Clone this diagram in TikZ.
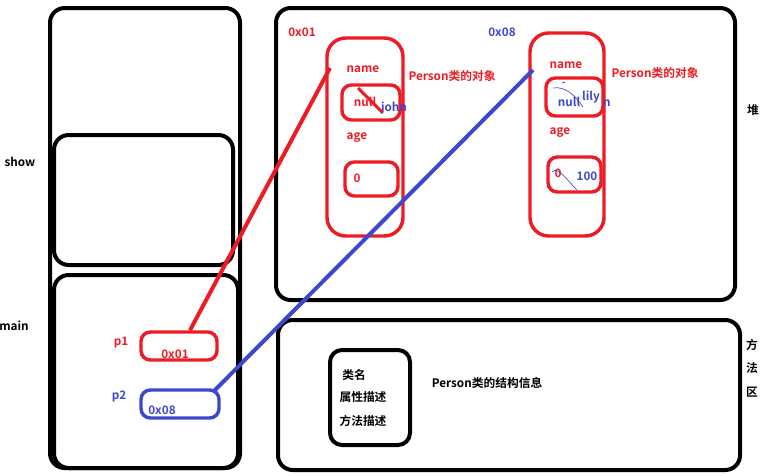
\documentclass[tikz,border=0pt]{standalone}
\usepackage{fontspec}
\setmainfont{Noto Sans CJK SC}[BoldFont={Noto Sans CJK SC Bold}]
\usetikzlibrary{fit,calc}
\definecolor{pred}{RGB}{237,28,36}
\definecolor{pblue}{RGB}{63,72,204}
\begin{document}
\begin{tikzpicture}[x=0.75pt,y=-0.75pt,
  blackbox/.style={draw=black,line width=3pt,rounded corners=11pt,inner sep=0pt},
  redbox/.style={draw=pred,line width=2.6pt,rounded corners=7pt,inner sep=0pt},
  bluebox/.style={draw=pblue,line width=2.6pt,rounded corners=7pt,inner sep=0pt},
  lbl/.style={font=\bfseries\fontsize{8.8}{10}\selectfont,inner sep=0pt},
  rlbl/.style={lbl,text=pred},
  blbl/.style={lbl,text=pblue},
  klbl/.style={lbl,text=black},
  redline/.style={draw=pred,line width=3pt},
  blueline/.style={draw=pblue,line width=3pt}]
\useasboundingbox (0,0) rectangle (764,475);
% stack
\node[blackbox,fit={(50,8) (240,468)}] (stack) {};
\node[blackbox,fit={(54,135) (233,265)}] (showbox) {};
\node[blackbox,fit={(54,275) (238,468)}] (mainbox) {};
\node[klbl] (showlbl) at (20,162) {show};
\node[klbl] (mainlbl) at (14,326) {main};
% heap
\node[blackbox,fit={(276,8) (735,300)}] (heap) {};
\node[klbl] (heaplbl) at (753,110) {堆};
% method area
\node[blackbox,fit={(278,320) (740,470)}] (method) {};
\node[klbl] (m1) at (752,345) {方};
\node[klbl] (m2) at (752,368) {法};
\node[klbl] (m3) at (752,392) {区};
\node[blackbox,rounded corners=9pt,fit={(330,350) (410,445)}] (classbox) {};
\node[klbl] (c1) at (354,375) {类名};
\node[klbl] (c2) at (363,397) {属性描述};
\node[klbl] (c3) at (363,421) {方法描述};
\node[klbl] (clsinfo) at (487,383) {Person类的结构信息};
% object 1
\node[redbox,rounded corners=14pt,fit={(327,38) (403,236)}] (obj1) {};
\node[redbox,fit={(342,85) (400,120)}] (name1) {};
\node[redbox,fit={(345,162) (398,196)}] (age1) {};
\node[rlbl] (addr1) at (302,32) {0x01};
\node[rlbl] (nm1) at (363,69) {name};
\node[rlbl] (po1) at (452,76) {Person类的对象};
\node[rlbl] (null1) at (365,102) {null};
\node[blbl] (john) at (394,108) {john};
\coordinate (s1a) at (358,88);
\coordinate (s1b) at (382,112);
\draw[draw=pred,line width=2.2pt] (s1a) -- (s1b);
\node[rlbl] (ag1) at (357,138) {age};
\node[rlbl] (zero1) at (357,178) {0};
% object 2
\node[redbox,rounded corners=14pt,fit={(530,33) (604,236)}] (obj2) {};
\node[redbox,fit={(546,78) (603,116)}] (name2) {};
\node[redbox,fit={(548,157) (601,192)}] (age2) {};
\node[blbl] (addr2) at (502,32) {0x08};
\node[rlbl] (nm2) at (566,65) {name};
\node[rlbl] (po2) at (655,73) {Person类的对象};
\node[blbl] (null2) at (569,102) {null};
\node[blbl] (lily) at (591,97) {lily};
\node[blbl] (nn) at (607,103) {n};
\coordinate (c2a) at (553,88);
\coordinate (c2b) at (583,107);
\draw[draw=pblue,line width=0.5pt] (c2a) .. controls (565,86) and (575,95) .. (c2b);
\coordinate (c2c) at (562,83);
\coordinate (c2d) at (565,82);
\draw[draw=pblue,line width=0.6pt] (c2c) -- (c2d);
\node[rlbl] (ag2) at (560,133) {age};
\node[rlbl] (zero2) at (558,173) {0};
\node[blbl] (hundred) at (587,176) {100};
\coordinate (c3a) at (552,172);
\coordinate (c3b) at (577,190);
\draw[draw=pblue,line width=0.5pt] (c3a) .. controls (558,166) and (565,178) .. (c3b);
% references
\node[rlbl] (p1lbl) at (121,343) {p1};
\node[redbox,fit={(141,332) (217,360)}] (p1) {};
\node[rlbl] (p1val) at (175,354) {0x01};
\node[blbl] (p2lbl) at (119,396) {p2};
\node[bluebox,fit={(141,390) (219,418)}] (p2) {};
\node[blbl] (p2val) at (162,410) {0x08};
\coordinate (r1) at (330,68);
\coordinate (b1) at (533,70);
\draw[redline] ($(p1.north)+(11,0)$) -- (r1);
\draw[blueline] ($(p2.north east)+(-6,2)$) -- (b1);
\end{tikzpicture}
\end{document}
